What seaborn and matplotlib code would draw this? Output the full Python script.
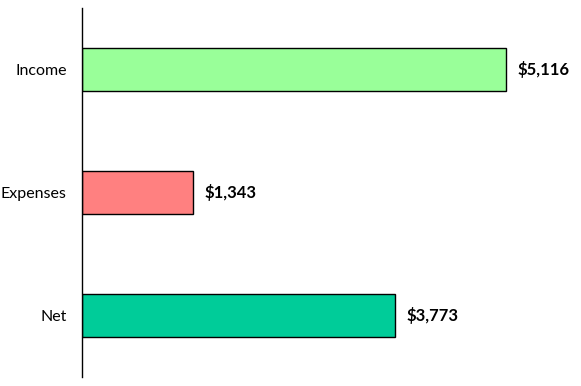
import pandas as pd
import seaborn as sns
import matplotlib.pyplot as plt

categories = ['Income', 'Expenses', 'Net']
amounts = [5116, 1343, 3773]
colors = ['#99FF99', '#FF8080', '#00CC99']

df = pd.DataFrame({'category': categories, 'amount': amounts})

sns.set_style('white')
plt.rcParams['font.family'] = ['Lato', 'DejaVu Sans']
plt.rcParams['text.color'] = 'black'
plt.rcParams['ytick.color'] = 'black'

fig = plt.figure(figsize=(5.81, 3.86), dpi=100)
ax = fig.add_axes([0.1411, 0.0233, 0.8417, 0.956])

sns.barplot(data=df, x='amount', y='category', hue='category', palette=colors,
            order=categories, width=0.35, edgecolor='black', linewidth=1,
            saturation=1, legend=False, ax=ax)

ax.set_xlim(0, 5900)
ax.set_ylim(2.5, -0.5)
ax.set_xlabel('')
ax.set_ylabel('')
ax.set_xticks([])
ax.tick_params(axis='y', length=0, pad=11, labelsize=11.5, labelcolor='black')
for s in ['top', 'right', 'bottom']:
    ax.spines[s].set_visible(False)
ax.spines['left'].set_color('black')
ax.spines['left'].set_linewidth(1)

for i, v in enumerate(amounts):
    ax.text(v + 140, i, '${:,}'.format(v), va='center', ha='left',
            fontsize=12, fontweight='bold', color='black')

fig.savefig('out.png', dpi=100)
